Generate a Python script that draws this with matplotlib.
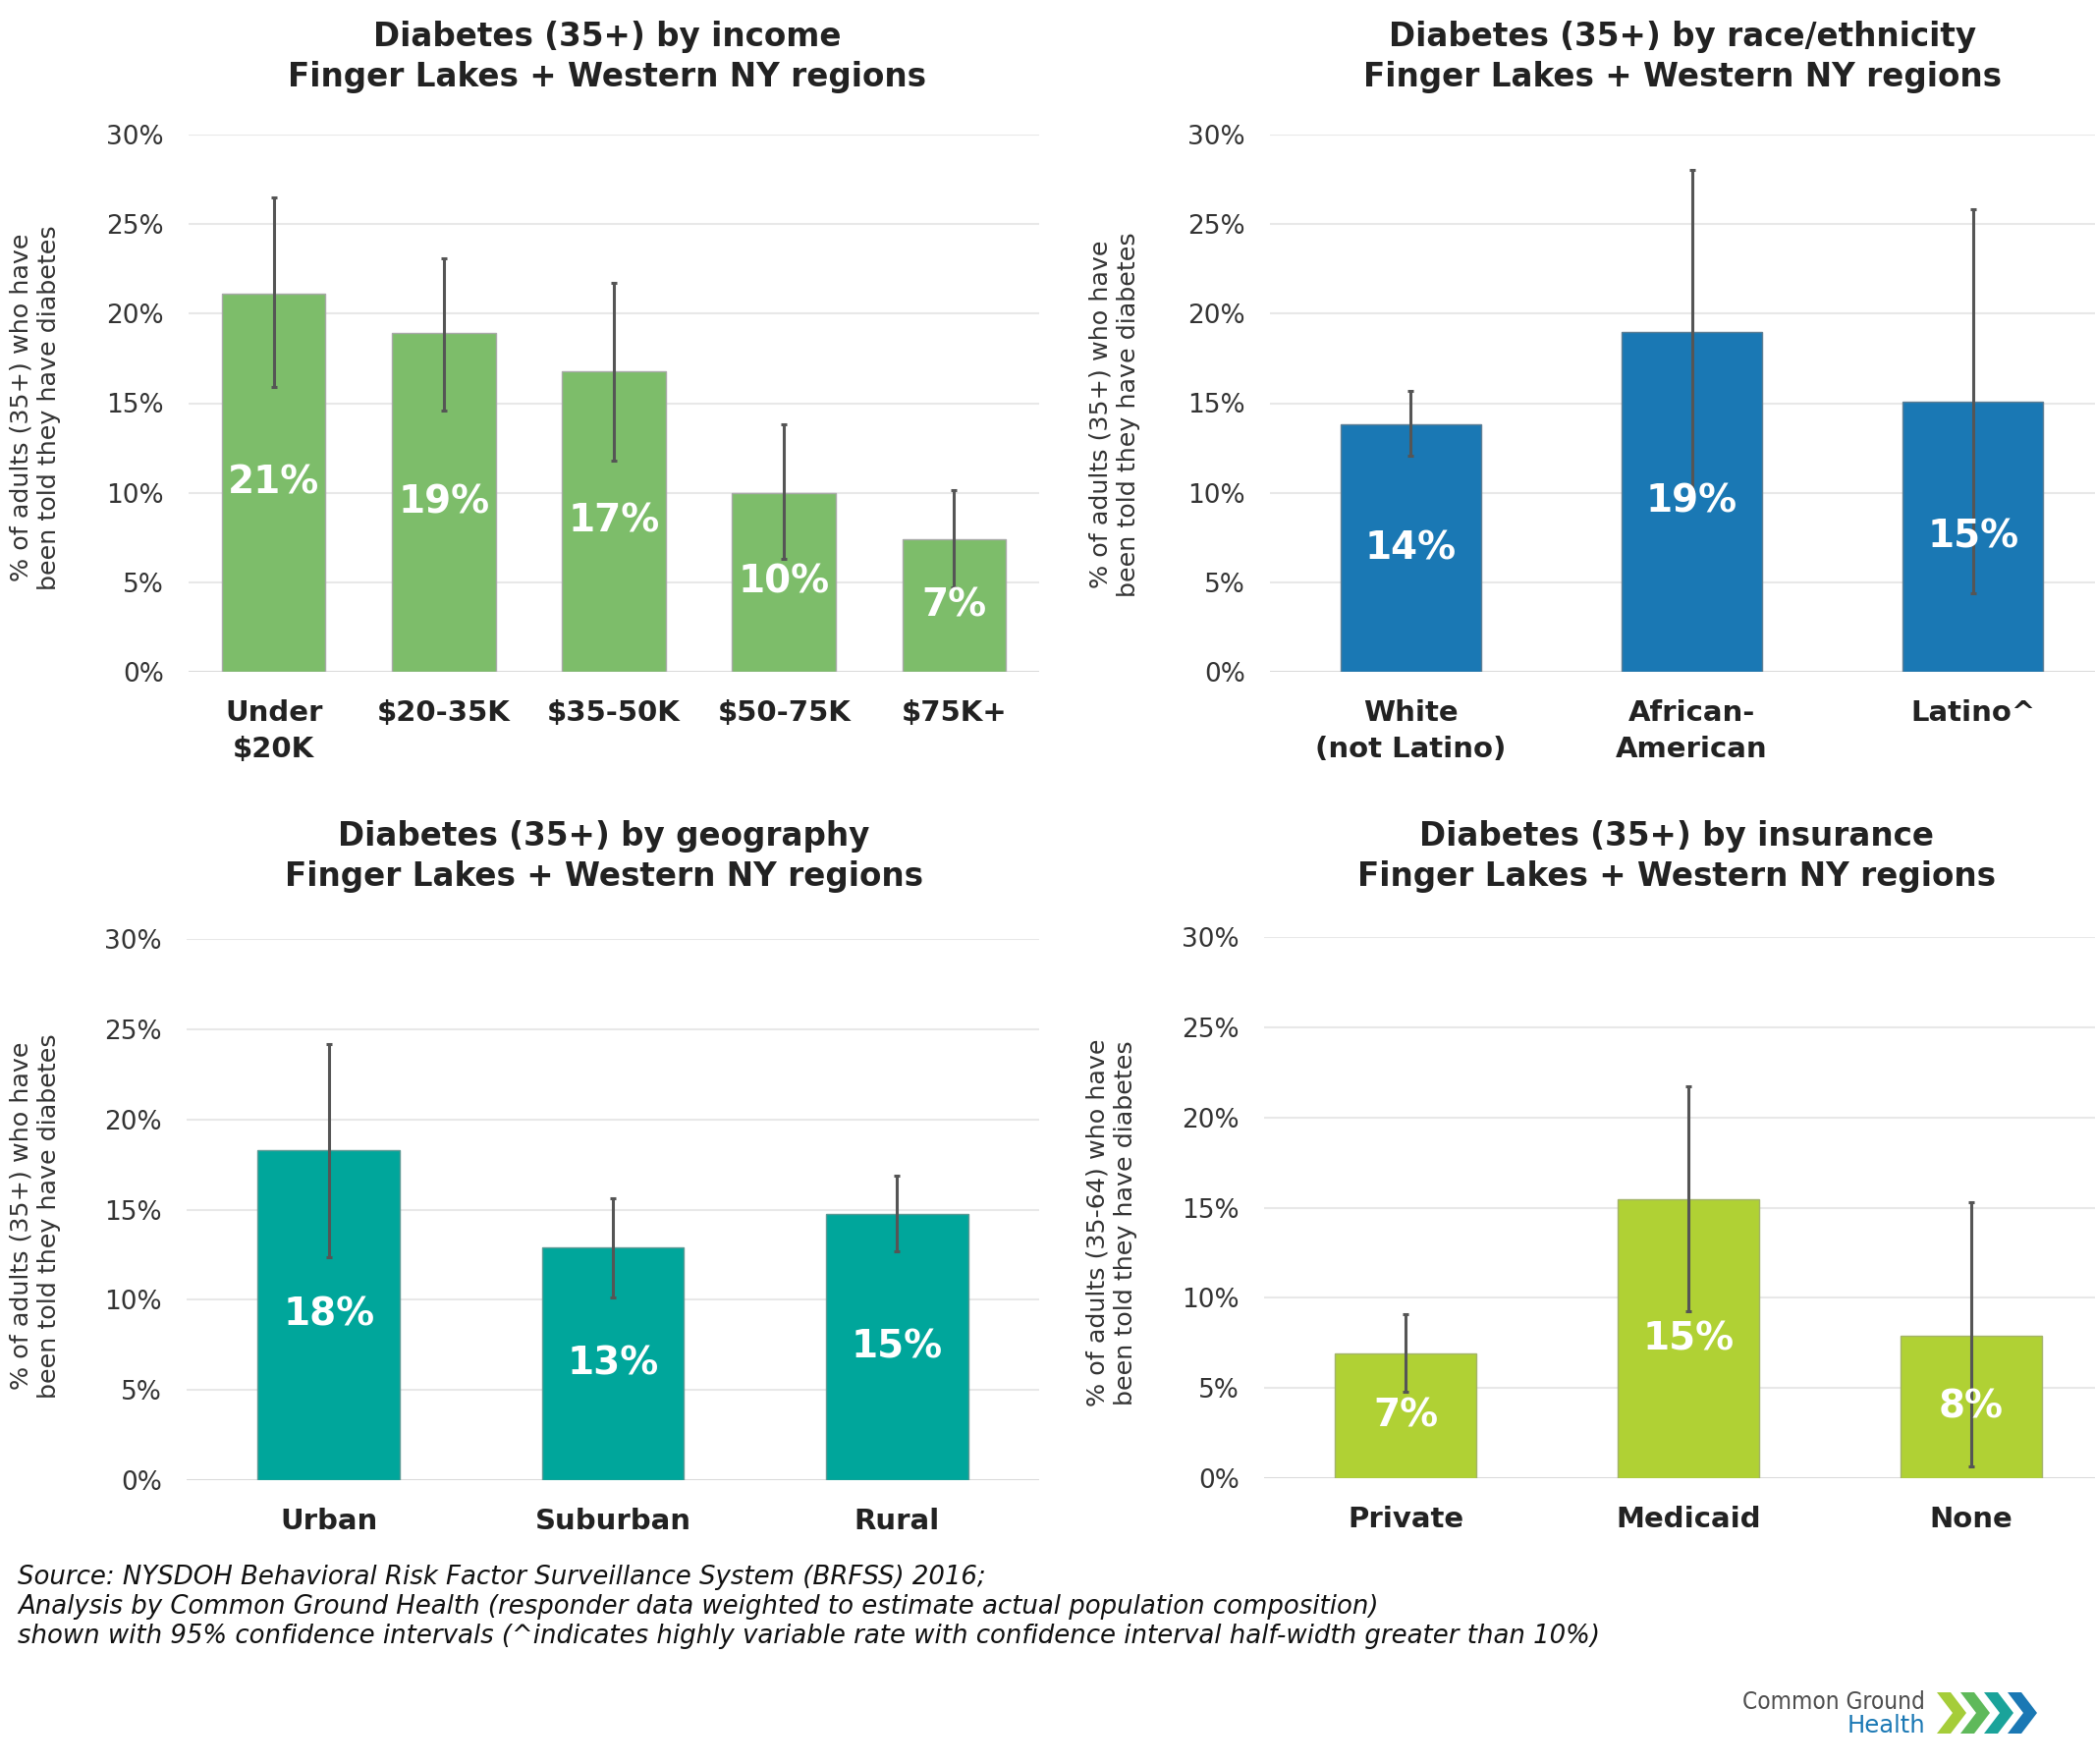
import matplotlib
matplotlib.use("Agg")
import matplotlib.pyplot as plt
from matplotlib.patches import Polygon
import numpy as np

plt.rcParams['font.family'] = ['DejaVu Sans']

# ---------------- data ----------------
income_cats = ["Under\n$20K", "$20-35K", "$35-50K", "$50-75K", "$75K+"]
income_vals = [21.1, 18.9, 16.8, 10.0, 7.4]
income_lo = [15.9, 14.6, 11.8, 6.3, 4.7]
income_hi = [26.5, 23.1, 21.7, 13.8, 10.15]
income_labels = ["21%", "19%", "17%", "10%", "7%"]

race_cats = ["White\n(not Latino)", "African-\nAmerican", "Latino^"]
race_vals = [13.8, 19.0, 15.1]
race_lo = [12.05, 10.1, 4.4]
race_hi = [15.7, 28.0, 25.85]
race_labels = ["14%", "19%", "15%"]

geo_cats = ["Urban", "Suburban", "Rural"]
geo_vals = [18.3, 12.9, 14.75]
geo_lo = [12.35, 10.15, 12.7]
geo_hi = [24.2, 15.6, 16.9]
geo_labels = ["18%", "13%", "15%"]

ins_cats = ["Private", "Medicaid", "None"]
ins_vals = [6.9, 15.45, 7.9]
ins_lo = [4.8, 9.25, 0.65]
ins_hi = [9.1, 21.7, 15.3]
ins_labels = ["7%", "15%", "8%"]

yticks = [0, 5, 10, 15, 20, 25, 30]
ytick_labels = ["0%", "5%", "10%", "15%", "20%", "25%", "30%"]

titles = [
    "Diabetes (35+) by income\nFinger Lakes + Western NY regions",
    "Diabetes (35+) by race/ethnicity\nFinger Lakes + Western NY regions",
    "Diabetes (35+) by geography\nFinger Lakes + Western NY regions",
    "Diabetes (35+) by insurance\nFinger Lakes + Western NY regions",
]
ylabels = [
    "% of adults (35+) who have\nbeen told they have diabetes",
    "% of adults (35+) who have\nbeen told they have diabetes",
    "% of adults (35+) who have\nbeen told they have diabetes",
    "% of adults (35-64) who have\nbeen told they have diabetes",
]
footer = ("Source: NYSDOH Behavioral Risk Factor Surveillance System (BRFSS) 2016;\n"
          "Analysis by Common Ground Health (responder data weighted to estimate actual population composition)\n"
          "shown with 95% confidence intervals (^indicates highly variable rate with confidence interval half-width greater than 10%)")

# ---------------- figure ----------------
W, H = 2133, 1796
fig = plt.figure(figsize=(W / 100, H / 100), dpi=100)

def fx(px):
    return px / W

def fy(py):
    return 1 - py / H

panels = [
    dict(rect=(192, 137, 1058, 684), cats=income_cats, vals=income_vals, lo=income_lo, hi=income_hi,
         labels=income_labels, color="#7dbd6a", edge="#a9a9a9", width=0.61,
         title_xy=(618, 58), ylab_xy=(36, 415)),
    dict(rect=(1293, 137, 2152, 684), cats=race_cats, vals=race_vals, lo=race_lo, hi=race_hi,
         labels=race_labels, color="#1a78b4", edge="#5f7f95", width=0.5,
         title_xy=(1713, 58), ylab_xy=(1135, 422)),
    dict(rect=(190, 956, 1058, 1507), cats=geo_cats, vals=geo_vals, lo=geo_lo, hi=geo_hi,
         labels=geo_labels, color="#00a69b", edge="#5e9a95", width=0.5,
         title_xy=(615, 872), ylab_xy=(36, 1238)),
    dict(rect=(1287, 954, 2151, 1505), cats=ins_cats, vals=ins_vals, lo=ins_lo, hi=ins_hi,
         labels=ins_labels, color="#b0d134", edge="#a3b36a", width=0.5,
         title_xy=(1707, 872), ylab_xy=(1132, 1245)),
]

for p, title, ylab in zip(panels, titles, ylabels):
    l, t, r, b = p["rect"]
    ax = fig.add_axes([fx(l), fy(b), (r - l) / W, (b - t) / H])
    x = np.arange(len(p["cats"]))
    vals = np.array(p["vals"])
    lo = np.array(p["lo"])
    hi = np.array(p["hi"])
    ax.bar(x, vals, width=p["width"], color=p["color"], edgecolor=p["edge"], linewidth=1.0, zorder=2)
    ax.errorbar(x, vals, yerr=[vals - lo, hi - vals], fmt="none", ecolor="#555555",
                elinewidth=2.2, capsize=2.5, capthick=2.2, zorder=3)
    for xi, v, lab in zip(x, vals, p["labels"]):
        ax.text(xi, v / 2, lab, ha="center", va="center", color="white",
                fontsize=28, fontweight="bold", zorder=4)
    ax.set_xlim(-0.5, len(p["cats"]) - 0.5)
    ax.set_ylim(0, 30)
    ax.set_yticks(yticks)
    ax.set_yticklabels(ytick_labels, fontsize=19, color="#333333")
    ax.set_xticks(x)
    ax.set_xticklabels(p["cats"], fontsize=21, fontweight="bold", color="#222222", linespacing=1.4)
    ax.tick_params(axis="both", length=0)
    ax.tick_params(axis="y", pad=18)
    ax.tick_params(axis="x", pad=20)
    ax.grid(axis="y", color="#e8e8e8", linewidth=1.5, zorder=0)
    ax.set_axisbelow(True)
    for s in ax.spines.values():
        s.set_visible(False)
    ax.axhline(0, color="#d9d9d9", linewidth=2, zorder=1)

    tx, ty = p["title_xy"]
    fig.text(fx(tx), fy(ty), title, ha="center", va="center", fontsize=23.5,
             fontweight="bold", color="#222222", linespacing=1.3)
    lx, ly = p["ylab_xy"]
    fig.text(fx(lx), fy(ly), ylab, ha="center", va="center", rotation=90,
             fontsize=18.3, color="#333333", linespacing=1.25)

# footer
fig.text(fx(18), fy(1636), footer, ha="left", va="center", fontsize=18.7, style="italic",
         color="#111111", linespacing=1.18)

# logo
fig.text(fx(1960), fy(1733), "Common Ground", ha="right", va="center", fontsize=17.5,
         color="#4d4d4d", fontstretch="condensed")
fig.text(fx(1960), fy(1757), "Health", ha="right", va="center", fontsize=17.5,
         color="#1a78b4")
chev_colors = ["#a5cd39", "#5fb95a", "#1aa39a", "#1a78b4"]
for i, c in enumerate(chev_colors):
    x0 = 1972 + i * 24
    pts = [(x0, 1723), (x0 + 14, 1723), (x0 + 30, 1744), (x0 + 14, 1765), (x0, 1765), (x0 + 16, 1744)]
    fig.patches.append(Polygon([(fx(a), fy(bb)) for a, bb in pts], closed=True,
                               transform=fig.transFigure, facecolor=c, edgecolor="none"))

fig.savefig("out.png", dpi=100)
